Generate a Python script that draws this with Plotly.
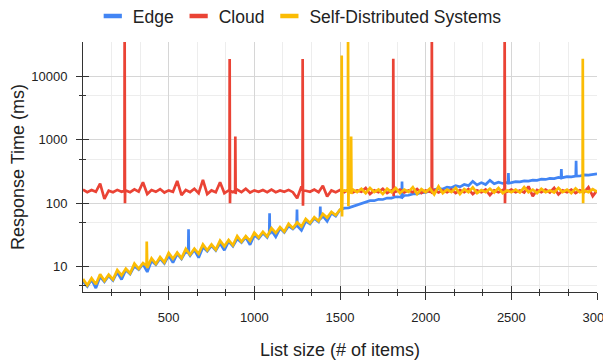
import plotly.graph_objects as go

# ---------------- data ----------------
list_size = list(range(0, 3001, 25))

edge_ms = [
    5.9, 4.9, 6.3, 4.6, 7.0, 5.8, 7.2, 6.1, 8.2, 6.3,
    8.9, 7.7, 10.2, 9.0, 11.0, 8.3, 12.4, 10.8, 13.5, 11.3,
    15.0, 11.6, 16.0, 13.3, 17.5, 15.0, 18.5, 13.9, 20.4, 17.6,
    21.5, 18.0, 23.5, 18.2, 25.2, 21.1, 27.6, 24.0, 29.2, 22.2,
    31.5, 27.9, 34.0, 29.1, 37.2, 29.6, 40.3, 34.7, 44.0, 39.3,
    48.0, 37.5, 52.5, 47.5, 57.8, 51.2, 63.5, 52.0, 70.0, 63.0,
    79, 84, 85, 90, 93, 100, 104, 110, 110, 116,
    115, 121, 121, 127, 126, 133, 134, 141, 141, 148,
    149, 157, 162, 170, 168, 180, 176, 190, 182, 198,
    190, 222, 195, 212, 198, 230, 203, 215, 206, 214,
    212, 220, 218, 226, 224, 232, 231, 240, 238, 247,
    246, 256, 255, 264, 262, 272, 270, 280, 278, 288,
    292,
]
edge_spike_x = [614, 616, 618, 1087, 1089, 1091, 1247, 1249, 1251, 1383, 1385, 1387,
                1860, 1862, 1864, 2481, 2483, 2485, 2790, 2792, 2794, 2876, 2878, 2880]
edge_spike_y = [16.5, 39, 16, 34, 70, 33, 45, 80, 44, 58, 89, 57,
                124, 220, 124, 208, 300, 208, 252, 348, 252, 268, 470, 268]

cloud_ms = [
    165, 150, 162, 152, 205, 118, 158, 150, 163, 152,
    160, 150, 166, 153, 215, 140, 162, 152, 168, 148,
    160, 152, 225, 135, 162, 150, 170, 145, 235, 140,
    160, 150, 215, 145, 160, 150, 165, 150, 170, 148,
    160, 152, 162, 150, 165, 150, 160, 152, 163, 150,
    120, 185, 158, 152, 165, 150, 190, 128, 160, 150,
    162, 150, 165, 148, 160, 152, 175, 140, 160, 150,
    170, 145, 160, 152, 165, 148, 160, 150, 168, 145,
    160, 152, 162, 148, 160, 150, 165, 145, 162, 150,
    168, 140, 160, 150, 165, 135, 160, 150, 162, 152,
    165, 150, 160, 148, 185, 130, 162, 150, 165, 148,
    175, 138, 160, 150, 165, 145, 160, 150, 180, 130,
    160,
]
cloud_spike_x = [242, 243, 245, 246, 855, 856, 858, 859, 888, 889, 891, 892,
                 1281, 1282, 1284, 1285, 1810, 1811, 1813, 1814,
                 2035, 2036, 2038, 2039, 2460, 2461, 2463, 2464]
cloud_spike_y = [158, 60000, 100, 158, 158, 18900, 100, 158, 158, 1135, 140, 158,
                 158, 18900, 92, 158, 158, 19000, 130, 158,
                 158, 60000, 140, 158, 158, 60000, 100, 158]

sds_ms = [
    6.4, 5.1, 6.6, 5.3, 7.6, 6.0, 7.5, 6.3, 8.9, 7.3,
    9.3, 7.9, 11.2, 9.3, 11.4, 9.6, 13.6, 11.1, 14.2, 11.7,
    16.5, 13.4, 16.7, 13.7, 19.2, 15.5, 19.3, 16.0, 22.5, 18.2,
    22.4, 18.6, 25.8, 21.0, 26.4, 21.8, 30.5, 24.8, 30.5, 25.5,
    34.5, 28.8, 35.6, 30.0, 40.6, 34.1, 42.2, 35.8, 47.7, 40.5,
    50.1, 43.0, 56.8, 49.0, 60.4, 52.8, 68.4, 59.5, 73.4, 65.0,
    80, 160, 150, 165, 150, 170, 145, 175, 150, 165,
    140, 170, 150, 175, 145, 165, 152, 180, 140, 168,
    150, 172, 138, 185, 145, 165, 150, 175, 140, 168,
    150, 178, 145, 162, 150, 170, 148, 175, 145, 160,
    150, 165, 148, 180, 150, 165, 145, 170, 150, 160,
    148, 175, 150, 165, 145, 172, 150, 160, 150, 168,
    152,
]
sds_spike_x = [371, 372, 374, 1508, 1510, 1512, 1514, 1546, 1547, 1549,
               1564, 1565, 1567, 1568, 2916, 2917, 2919, 2920]
sds_spike_y = [10.4, 25, 10.2, 80, 21500, 62, 155, 155, 60000, 90,
               155, 1135, 140, 155, 155, 19000, 100, 155]

series_names = ["Edge", "Cloud", "Self-Distributed Systems"]
x_tick_vals = [500, 1000, 1500, 2000, 2500, 3000]
x_tick_text = ["500", "1000", "1500", "2000", "2500", "3000"]
y_tick_vals = [10, 100, 1000, 10000]
y_tick_text = ["10", "100", "1000", "10000"]
y_minor_vals = [5, 50, 500, 5000]

# ---------------- styling ----------------
# The page body has an 8px margin, so the figure is 8px smaller than the
# 611x360 window on each axis and all positions are measured 8px in.
COLORS = ["#4285F4", "#EA4335", "#FBBC04"]
FONT = "Liberation Sans"
TXT = "#222222"
AXIS = "#333333"
X_RANGE = [0, 3000]
Y_RANGE = [0.602, 4.544]
x_minor_vals = [500 / 3 * k for k in range(1, 18) if k % 3]


def merge(xs, ys, sx, sy):
    pts = sorted(list(zip(xs, ys)) + list(zip(sx, sy)))
    return [p[0] for p in pts], [p[1] for p in pts]


fig = go.Figure()
data = [
    merge(list_size, edge_ms, edge_spike_x, edge_spike_y),
    merge(list_size, cloud_ms, cloud_spike_x, cloud_spike_y),
    merge(list_size, sds_ms, sds_spike_x, sds_spike_y),
]
for (xs, ys), name, col in zip(data, series_names, COLORS):
    fig.add_trace(go.Scatter(x=xs, y=ys, mode="lines", name=name,
                             line=dict(color=col, width=2.7), showlegend=False))
# legend swatches
for name, col in zip(series_names, COLORS):
    fig.add_trace(go.Scatter(x=[None], y=[None], mode="markers", name=name,
                             marker=dict(symbol="line-ew", size=13,
                                         line=dict(color=col, width=4.5))))
# overlay axes carrying the inner halves of the tick marks
fig.add_trace(go.Scatter(x=[None], y=[None], xaxis="x2", yaxis="y2",
                         showlegend=False, hoverinfo="skip"))

fig.update_layout(
    width=603, height=352,
    margin=dict(l=75, r=14, t=34, b=68, autoexpand=False),
    paper_bgcolor="white", plot_bgcolor="white",
    font=dict(family=FONT, size=13, color=TXT),
    legend=dict(orientation="h", x=0.019, xanchor="left", y=1.104, yanchor="middle",
                font=dict(family=FONT, size=17.5, color=TXT), bgcolor="rgba(0,0,0,0)",
                borderwidth=0),
    xaxis=dict(
        range=X_RANGE, tickmode="array", tickvals=x_tick_vals, ticktext=x_tick_text,
        ticks="outside", ticklen=7, tickcolor=AXIS, tickwidth=1, automargin=False,
        showline=True, linecolor=AXIS, linewidth=1, zeroline=False,
        showgrid=True, gridcolor="#d6d6d6", ticklabelstandoff=6, ticklabeloverflow="allow",
        tickfont=dict(family=FONT, size=13, color=TXT),
        minor=dict(tickmode="array", tickvals=x_minor_vals, ticks="outside", ticklen=3,
                   tickcolor=AXIS, showgrid=True, gridcolor="#ededed"),
        title=dict(text="List size (# of items)", font=dict(family=FONT, size=18, color=TXT),
                   standoff=22),
    ),
    yaxis=dict(
        type="log", range=Y_RANGE, tickmode="array", tickvals=y_tick_vals, ticktext=y_tick_text,
        ticks="outside", ticklen=6, tickcolor=AXIS, tickwidth=1, automargin=False,
        showline=True, linecolor=AXIS, linewidth=1, zeroline=False,
        showgrid=True, gridcolor="#d6d6d6", ticklabelstandoff=6, ticklabeloverflow="allow",
        tickfont=dict(family=FONT, size=13, color=TXT),
        minor=dict(tickmode="array", tickvals=y_minor_vals, ticks="outside", ticklen=3,
                   tickcolor=AXIS, showgrid=True, gridcolor="#ededed"),
        title=dict(text="Response Time (ms)", font=dict(family=FONT, size=18, color=TXT),
                   standoff=6),
    ),
    xaxis2=dict(
        overlaying="x", anchor="y", side="bottom", range=X_RANGE, automargin=False,
        tickmode="array", tickvals=x_tick_vals, ticks="inside", ticklen=6,
        tickcolor=AXIS, showticklabels=False, showgrid=False, showline=False, zeroline=False,
        minor=dict(tickmode="array", tickvals=x_minor_vals, ticks="inside", ticklen=3,
                   tickcolor=AXIS, showgrid=False),
    ),
    yaxis2=dict(
        overlaying="y", anchor="x", side="left", type="log", range=Y_RANGE, automargin=False,
        tickmode="array", tickvals=y_tick_vals, ticks="inside", ticklen=6,
        tickcolor=AXIS, showticklabels=False, showgrid=False, showline=False, zeroline=False,
        minor=dict(tickmode="array", tickvals=y_minor_vals, ticks="inside", ticklen=3,
                   tickcolor=AXIS, showgrid=False),
    ),
)

fig.write_html("out.html")
